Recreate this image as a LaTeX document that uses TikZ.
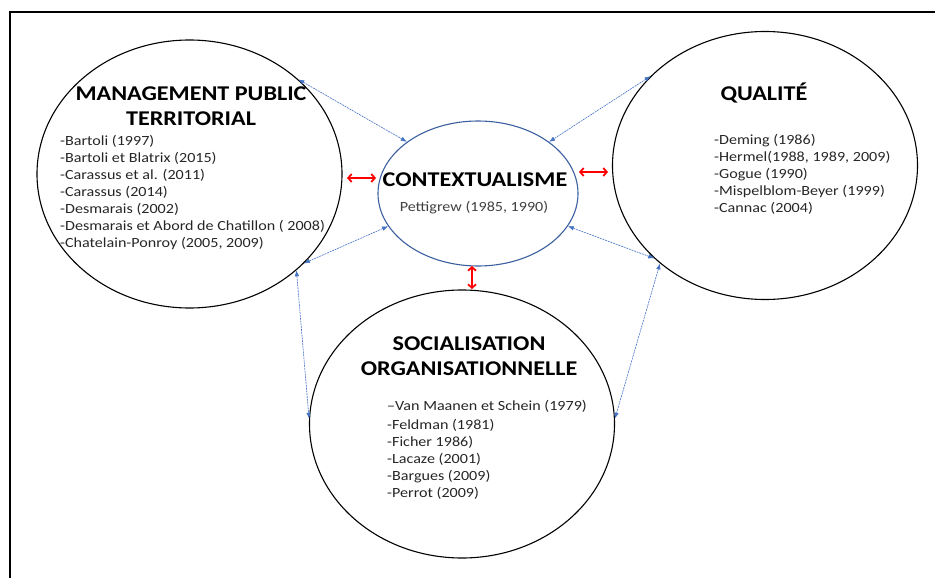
\documentclass[tikz,border=0pt]{standalone}
\usepackage{fontspec}
\setmainfont{Carlito}[FakeStretch=1.15]
\usetikzlibrary{shapes.geometric}
\usetikzlibrary{arrows.meta}

\definecolor{linkblue}{RGB}{68,114,196}
\definecolor{ctxblue}{RGB}{60,95,160}

\begin{document}
\begin{tikzpicture}[x=1pt,y=-1pt,
  bubble/.style={ellipse,draw=black,line width=1.1pt,inner sep=0pt,minimum width=305pt,minimum height=268pt},
  title/.style={font=\bfseries\fontsize{21}{25}\selectfont,align=center,inner sep=0pt},
  refs/.style={font=\fontsize{14}{17}\selectfont,align=left,anchor=north west,inner sep=0pt,text=black!85},
  link/.style={<->,>={Latex[length=6pt,width=4.5pt]},linkblue,line width=0.6pt,dash pattern=on 2pt off 0.8pt},
  tie/.style={<->,>={Straight Barb[length=3.5pt,width=8pt]},red,line width=1.8pt}]
  \useasboundingbox (0,0) rectangle (935,578);

  % frame
  \draw[line width=1.4pt] (10,590) -- (10,12) -- (945,12);

  \node[bubble] (mpt) at (189.5,174) {};
  \node[bubble] (qual) at (765,165.5) {};
  \node[bubble] (soc) at (462,424) {};
  \node[ellipse,draw=ctxblue,line width=1.1pt,inner sep=0pt,minimum width=200pt,minimum height=145pt] (ctx) at (478,193.5) {};

  % titles
  \node[title] (mpttitle) at (191,106) {MANAGEMENT PUBLIC\\TERRITORIAL};
  \node[title,anchor=base] (qualtitle) at (764,100) {QUALITÉ};
  \node[title] (soctitle) at (469,356) {SOCIALISATION\\ORGANISATIONNELLE};
  \node[title,anchor=base] (ctxtitle) at (475,186) {CONTEXTUALISME};
  \node[refs,anchor=base,text=black!75] (ctxref) at (474,211) {Pettigrew (1985, 1990)};

  % references
  \node[refs] (mptrefs) at (60,135) {-Bartoli (1997)\\-Bartoli et Blatrix (2015)\\-Carassus et al. (2011)\\-Carassus (2014)\\-Desmarais (2002)\\-Desmarais et Abord de Chatillon ( 2008)\\-Chatelain-Ponroy (2005, 2009)};
  \node[refs] (qualrefs) at (714,134) {-Deming (1986)\\-Hermel(1988, 1989, 2009)\\-Gogue (1990)\\-Mispelblom-Beyer (1999)\\-Cannac (2004)};
  \node[refs] (socrefs) at (387,400) {–Van Maanen et Schein (1979)\\[2pt]-Feldman (1981)\\-Ficher 1986)\\-Lacaze (2001)\\-Bargues (2009)\\-Perrot (2009)};

  % blue links
  \draw[link] (mpt.41) -- (ctx.144);
  \draw[link] (qual.142) -- (ctx.36);
  \draw[link] (mpt.-38) -- (ctx.200);
  \draw[link] (qual.220) -- (ctx.-20);
  \draw[link] (mpt.-42) -- (soc.178);
  \draw[link] (qual.223) -- (soc.2);

  % red ties
  \coordinate (tieL1) at (347,178);
  \coordinate (tieL2) at (376,178);
  \coordinate (tieR1) at (579,172);
  \coordinate (tieR2) at (608,172);
  \coordinate (tieB1) at (472,266);
  \coordinate (tieB2) at (472,289);
  \draw[tie] (tieL1) -- (tieL2);
  \draw[tie] (tieR1) -- (tieR2);
  \draw[tie] (tieB1) -- (tieB2);

\end{tikzpicture}
\end{document}
